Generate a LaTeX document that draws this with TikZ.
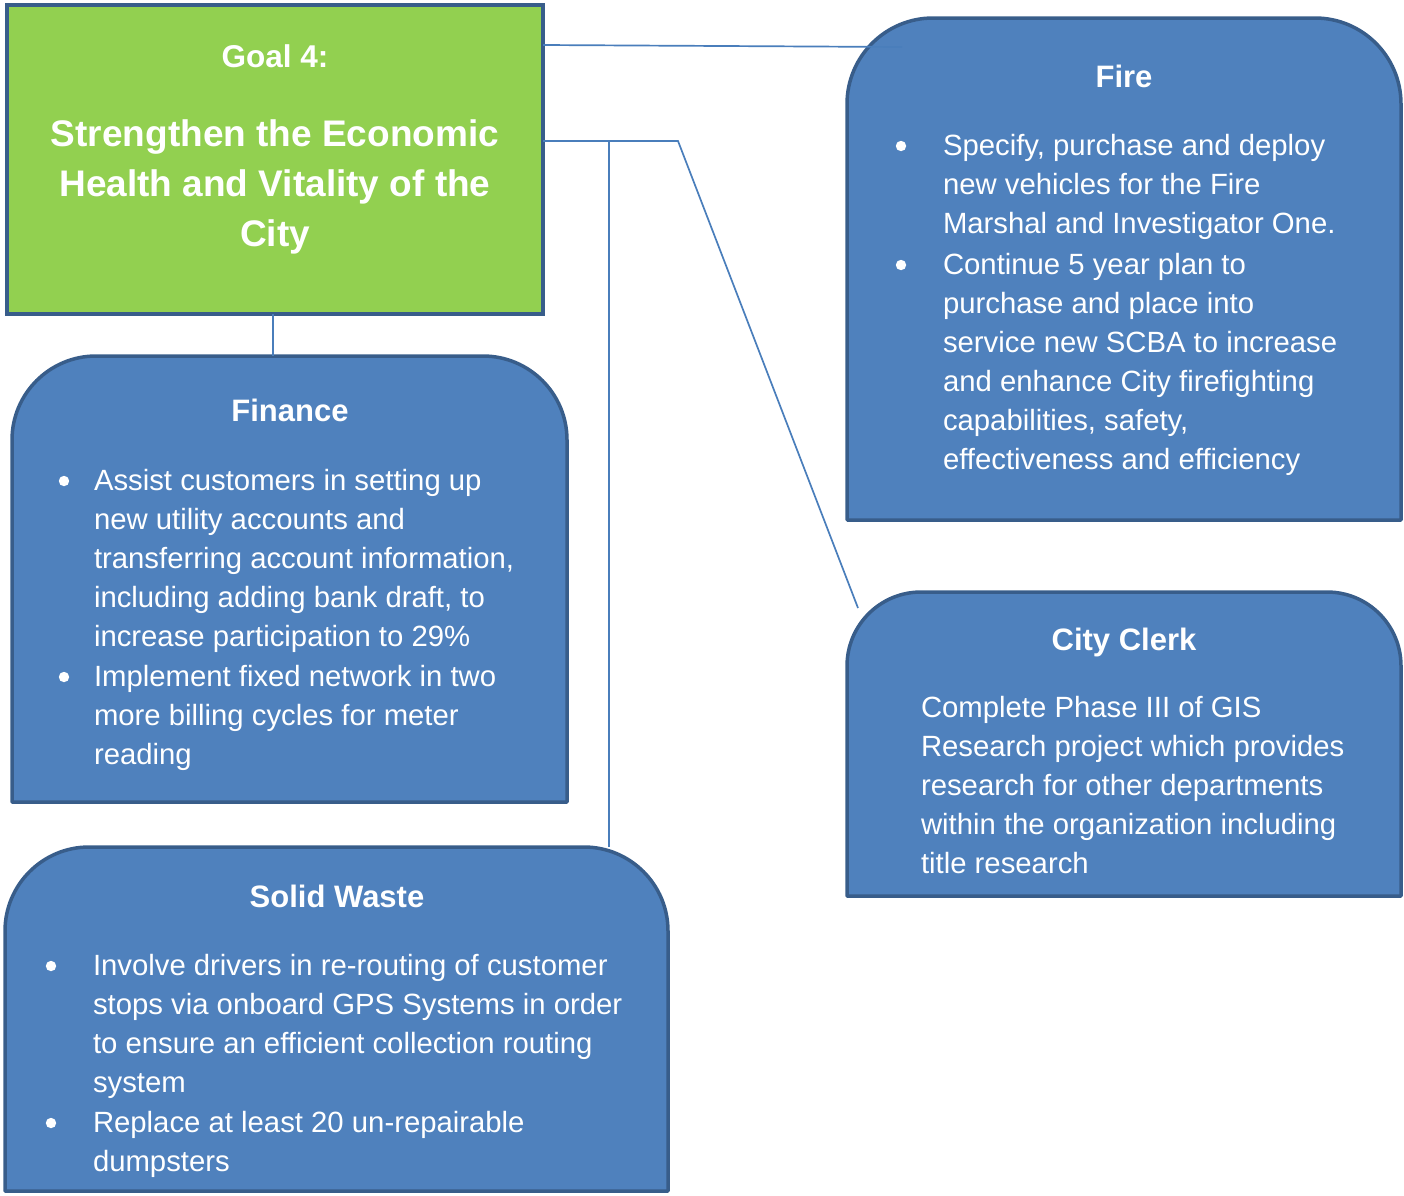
\documentclass[tikz,border=0pt]{standalone}
\usepackage{fontspec}
\setmainfont{Liberation Sans}
\usetikzlibrary{calc}
\definecolor{boxfill}{HTML}{4F81BD}
\definecolor{boxline}{HTML}{385D8A}
\definecolor{goalfill}{HTML}{92D050}
\definecolor{connline}{HTML}{4A7EBB}
\tikzset{
  area/.style={inner sep=0pt, outer sep=0pt},
  tabbox/.style={fill=boxfill, draw=boxline, line width=3.5pt, line join=round},
  goalbox/.style={area, fill=goalfill, draw=boxline, line width=3.5pt},
  conn/.style={draw=connline, line width=1.7pt},
  txt/.style={inner sep=0pt, outer sep=0pt, text=white, anchor=base west, font=\fontsize{29.3pt}{39pt}\selectfont},
  ttl/.style={inner sep=0pt, outer sep=0pt, text=white, anchor=base, font=\bfseries\fontsize{31pt}{39pt}\selectfont},
  gtl/.style={inner sep=0pt, outer sep=0pt, text=white, anchor=base, font=\bfseries\fontsize{37pt}{50pt}\selectfont},
  bul/.style={fill=white}
}
\newcommand\tabshape[2]{%
  \draw[tabbox] (#1.south west) -- ([yshift=-#2pt]#1.north west)
    arc[start angle=180,end angle=90,radius=#2pt] -- ([xshift=-#2pt]#1.north east)
    arc[start angle=90,end angle=0,radius=#2pt] -- (#1.south east) -- cycle;}
\newcommand\textlines[4]{%
  \foreach \t [count=\i from 0] in {#4} {\node[txt] (#1-\i) at ({#2},{#3+39*\i}) {\t};}}
\begin{document}
\begin{tikzpicture}[x=1pt,y=-1pt]
\useasboundingbox (0,0) rectangle (1404,1195);

% box frames (named areas)
\node[area, minimum width=536pt, minimum height=309pt] (goal) at (275,159.5) {};
\node[area, minimum width=554pt, minimum height=502pt] (fire) at (1124,269) {};
\node[area, minimum width=555pt, minimum height=446pt] (fin) at (289.5,579) {};
\node[area, minimum width=554pt, minimum height=304pt] (clerk) at (1124,744) {};
\node[area, minimum width=663pt, minimum height=344pt] (solid) at (336.5,1019) {};

\draw[goalbox] (goal.south west) rectangle (goal.north east);
\tabshape{fire}{86}
\tabshape{fin}{84}
\tabshape{clerk}{74}
\tabshape{solid}{84}

% connectors
\coordinate (bend) at (678,141);
\coordinate (branch) at (609,141);
\draw[conn] ([yshift=-40pt]goal.north east) -- ([xshift=55pt,yshift=-29pt]fire.north west);
\draw[conn] ([yshift=-136pt]goal.north east) -- (bend) -- ([xshift=11pt,yshift=-16pt]clerk.north west);
\draw[conn] (branch) -- (branch |- solid.north);
\draw[conn] ([xshift=-2pt]goal.south) -- ([xshift=-2pt]goal.south |- fin.north);

% goal text
\node[ttl, font=\bfseries\fontsize{31.5pt}{39pt}\selectfont] (g0) at (275,67) {Goal 4:};
\node[gtl] (g1) at (275,146) {Strengthen the Economic};
\node[gtl] (g2) at (275,196) {Health and Vitality of the};
\node[gtl] (g3) at (275,246) {City};

% Fire
\node[ttl] (firetitle) at (1124,87) {Fire};
\fill[bul] (901,146) circle (5.2pt);
\fill[bul] (901,265) circle (5.2pt);
\textlines{fa}{943}{155}{{Specify, purchase and deploy},{new vehicles for the Fire},{Marshal and Investigator One.}}
\textlines{fb}{943}{274}{{Continue 5 year plan to},{purchase and place into},{service new SCBA to increase},{and enhance City firefighting},{capabilities, safety,},{effectiveness and efficiency}}

% Finance
\node[ttl] (fintitle) at (290,421) {Finance};
\fill[bul] (64,481) circle (5.2pt);
\fill[bul] (64,677) circle (5.2pt);
\textlines{na}{94}{490}{{Assist customers in setting up},{new utility accounts and},{transferring account information,},{including adding bank draft, to},{increase participation to 29\%}}
\textlines{nb}{94}{686}{{Implement fixed network in two},{more billing cycles for meter},{reading}}

% City Clerk
\node[ttl] (clerktitle) at (1124,650) {City Clerk};
\textlines{ca}{921}{717}{{Complete Phase III of GIS},{Research project which provides},{research for other departments},{within the organization including},{title research}}

% Solid Waste
\node[ttl] (solidtitle) at (337,907) {Solid Waste};
\fill[bul] (51,966) circle (5.2pt);
\fill[bul] (51,1123) circle (5.2pt);
\textlines{sa}{93}{975}{{Involve drivers in re-routing of customer},{stops via onboard GPS Systems in order},{to ensure an efficient collection routing},{system}}
\textlines{sb}{93}{1132}{{Replace at least 20 un-repairable},{dumpsters}}
\end{tikzpicture}
\end{document}
